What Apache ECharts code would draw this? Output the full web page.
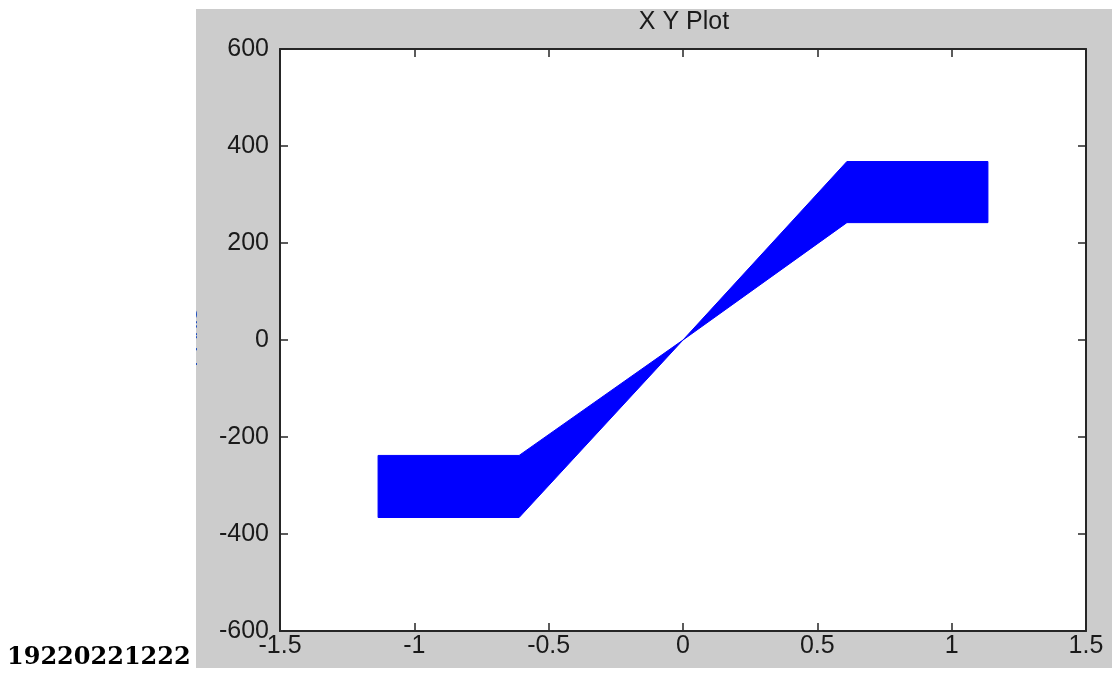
<!DOCTYPE html>
<html>
<head>
<meta charset="utf-8">
<script src="https://cdn.jsdelivr.net/npm/echarts@6/dist/echarts.min.js"></script>
<style>
html,body{margin:0;padding:0;background:#fff;}
#c{width:1112px;height:675px;}
</style>
</head>
<body>
<div id="c"></div>
<script>
// Data
var titleText = 'X Y Plot';
var xTicks = [-1.5, -1, -0.5, 0, 0.5, 1, 1.5];
var yTicks = [-600, -400, -200, 0, 200, 400, 600];
var bandX = [-1.135, -0.61, 0, 0.61, 1.135];
var bandUpper = [-238, -238, 0, 368, 368];
var bandLower = [-366, -366, 0, 242, 242];
var footText = '19220221222';
var yLabelText = 'Y Axis';

var chart = echarts.init(document.getElementById('c'), null, {renderer: 'canvas'});

var labelStyle = {color: '#1a1a1a', fontFamily: 'Liberation Sans, Arial, sans-serif', fontSize: 25};
var lineStyle = {color: '#262626', width: 2};

function mkX(pos, showLabel) {
  return {
    type: 'value', position: pos, min: xTicks[0], max: xTicks[xTicks.length - 1], interval: 0.5,
    axisLine: {show: true, onZero: false, lineStyle: lineStyle},
    axisTick: {show: true, inside: true, length: 8, lineStyle: {color: '#262626', width: 1.5}},
    axisLabel: Object.assign({show: showLabel, margin: 3}, labelStyle),
    splitLine: {show: false}
  };
}
function mkY(pos, showLabel) {
  return {
    type: 'value', position: pos, min: yTicks[0], max: yTicks[yTicks.length - 1], interval: 200,
    axisLine: {show: true, onZero: false, lineStyle: lineStyle},
    axisTick: {show: true, inside: true, length: 8, lineStyle: {color: '#262626', width: 1.5}},
    axisLabel: Object.assign({show: showLabel, margin: 11}, labelStyle),
    splitLine: {show: false}
  };
}

var poly = [];
for (var i = 0; i < bandX.length; i++) poly.push([bandX[i], bandUpper[i]]);
for (var j = bandX.length - 1; j >= 0; j--) poly.push([bandX[j], bandLower[j]]);

chart.setOption({
  animation: false,
  backgroundColor: '#ffffff',
  title: {
    text: titleText, left: 679, top: 5, textAlign: 'center',
    textStyle: {color: '#1a1a1a', fontFamily: 'Liberation Sans, Arial, sans-serif', fontSize: 25, fontWeight: 'normal'}
  },
  graphic: [
    {type: 'rect', z: -10, silent: true, shape: {x: 196, y: 9, width: 916, height: 659}, style: {fill: '#cccccc'}},
    {type: 'rect', z: -5, silent: true, shape: {x: 280, y: 49, width: 806, height: 582}, style: {fill: '#ffffff'}},
    {type: 'text', z: 5, silent: true, x: 191, y: 340, rotation: Math.PI / 2,
      style: {text: yLabelText, fill: '#1f4fbf', font: '22px Liberation Sans', textAlign: 'center', textVerticalAlign: 'middle'}},
    {type: 'rect', z: 6, silent: true, shape: {x: 0, y: 0, width: 196, height: 640}, style: {fill: '#ffffff'}},
    {type: 'text', z: 7, silent: true, left: 7, top: 646,
      style: {text: footText, fill: '#000', font: 'bold 24px "DejaVu Serif", serif'}}
  ],
  grid: {left: 280, right: 26, top: 49, bottom: 44, containLabel: false},
  xAxis: [mkX('bottom', true), mkX('top', false)],
  yAxis: [mkY('left', true), mkY('right', false)],
  series: [{
    type: 'custom',
    xAxisIndex: 0, yAxisIndex: 0,
    data: [0],
    renderItem: function (params, api) {
      var pts = poly.map(function (p) { return api.coord(p); });
      return {type: 'polygon', shape: {points: pts}, style: {fill: '#0000ff', stroke: '#0000ff', lineWidth: 1}};
    }
  }]
});
</script>
</body>
</html>
